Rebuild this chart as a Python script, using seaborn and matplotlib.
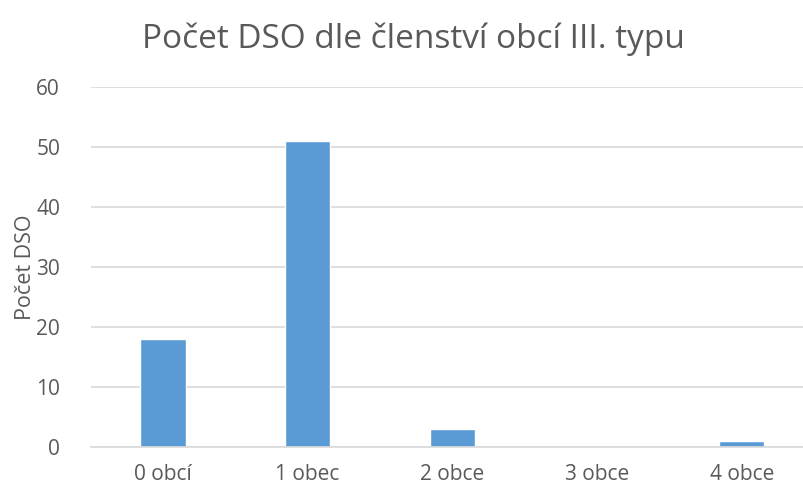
import matplotlib
matplotlib.use("Agg")
import matplotlib.pyplot as plt
import seaborn as sns
import pandas as pd

categories = ["0 obcí", "1 obec", "2 obce", "3 obce", "4 obce"]
values = [18, 51, 3, 0, 1]
title = "Počet DSO dle členství obcí III. typu"
ylabel = "Počet DSO"

sns.set_theme(style="white")
plt.rcParams['font.family'] = ['Open Sans', 'DejaVu Sans']

df = pd.DataFrame({"cat": categories, "val": values})
fig = plt.figure(figsize=(8.04, 4.88), dpi=100)
ax = fig.add_axes([0.1127, 0.083, 0.8998, 0.7377])
sns.barplot(data=df, x="cat", y="val", color="#5B9BD5", saturation=1, width=0.315, ax=ax)
ax.set_xlim(-0.5, 4.5)
ax.set_ylim(0, 60)
ax.set_yticks(range(0, 61, 10))
ax.yaxis.grid(True, color="#D9D9D9", linewidth=1.2)
ax.set_axisbelow(True)
for s in ["top", "right", "left"]:
    ax.spines[s].set_visible(False)
ax.spines["bottom"].set_color("#D9D9D9")
ax.spines["bottom"].set_linewidth(1.2)
ax.tick_params(axis="both", length=0, labelsize=15, labelcolor="#595959")
ax.tick_params(axis="y", pad=22)
ax.tick_params(axis="x", pad=12)
ax.set_xlabel("")
ax.set_ylabel(ylabel, fontsize=15.5, color="#595959", labelpad=0)
fig.text(0.514, 0.92, title, ha="center", va="center", fontsize=24, color="#595959")
fig.savefig("out.png", dpi=100)
